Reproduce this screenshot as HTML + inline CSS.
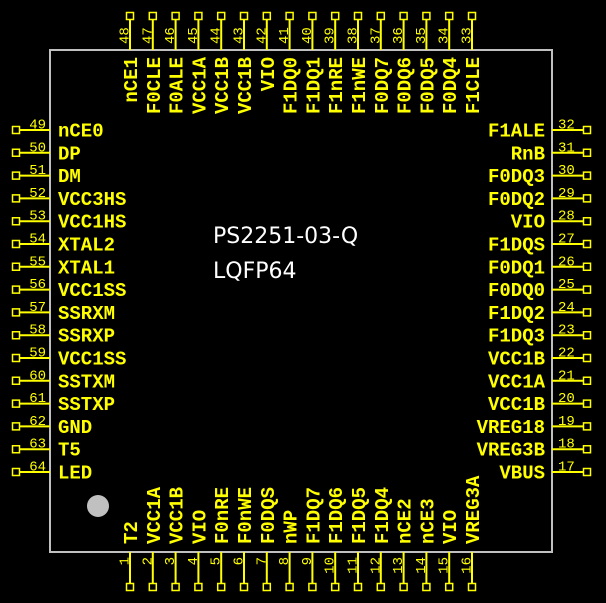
<!DOCTYPE html>
<html><head><meta charset="utf-8"><style>
html,body{margin:0;padding:0;background:#000;}
svg{display:block;}
.n{font-family:"Liberation Mono",monospace;font-weight:bold;font-size:19px;fill:#ffff00;}
.d{font-family:"Liberation Mono",monospace;font-size:14px;fill:#ffff00;}
.p{stroke:#ffff00;stroke-width:2;fill:none;}
</style></head><body>
<svg width="606" height="603" viewBox="0 0 606 603" xmlns="http://www.w3.org/2000/svg">
<rect width="606" height="603" fill="#000"/>
<rect x="50" y="50" width="502" height="502" fill="none" stroke="#c0c0c0" stroke-width="2"/>
<circle cx="98" cy="506" r="11" fill="#c0c0c0"/>
<text x="213" y="243" font-family="DejaVu Sans,sans-serif" font-size="22" fill="#ffffff">PS2251-03-Q</text>
<text x="213" y="278" font-family="DejaVu Sans,sans-serif" font-size="22" fill="#ffffff">LQFP64</text>

<!-- LEFT pins -->
<g class="p">
<path d="M19.5 130H50M19.5 152.8H50M19.5 175.6H50M19.5 198.4H50M19.5 221.2H50M19.5 244H50M19.5 266.8H50M19.5 289.6H50M19.5 312.4H50M19.5 335.2H50M19.5 358H50M19.5 380.8H50M19.5 403.6H50M19.5 426.4H50M19.5 449.2H50M19.5 472H50"/>
<path d="M12.5 126.5h7v7h-7zM12.5 149.3h7v7h-7zM12.5 172.1h7v7h-7zM12.5 194.9h7v7h-7zM12.5 217.7h7v7h-7zM12.5 240.5h7v7h-7zM12.5 263.3h7v7h-7zM12.5 286.1h7v7h-7zM12.5 308.9h7v7h-7zM12.5 331.7h7v7h-7zM12.5 354.5h7v7h-7zM12.5 377.3h7v7h-7zM12.5 400.1h7v7h-7zM12.5 422.9h7v7h-7zM12.5 445.7h7v7h-7zM12.5 468.5h7v7h-7z" stroke-width="1.5"/>
<!-- RIGHT -->
<path d="M552 130H583.5M552 152.8H583.5M552 175.6H583.5M552 198.4H583.5M552 221.2H583.5M552 244H583.5M552 266.8H583.5M552 289.6H583.5M552 312.4H583.5M552 335.2H583.5M552 358H583.5M552 380.8H583.5M552 403.6H583.5M552 426.4H583.5M552 449.2H583.5M552 472H583.5"/>
<path d="M583.5 126.5h7v7h-7zM583.5 149.3h7v7h-7zM583.5 172.1h7v7h-7zM583.5 194.9h7v7h-7zM583.5 217.7h7v7h-7zM583.5 240.5h7v7h-7zM583.5 263.3h7v7h-7zM583.5 286.1h7v7h-7zM583.5 308.9h7v7h-7zM583.5 331.7h7v7h-7zM583.5 354.5h7v7h-7zM583.5 377.3h7v7h-7zM583.5 400.1h7v7h-7zM583.5 422.9h7v7h-7zM583.5 445.7h7v7h-7zM583.5 468.5h7v7h-7z" stroke-width="1.5"/>
<!-- TOP -->
<path d="M130 19.5V50M152.8 19.5V50M175.6 19.5V50M198.4 19.5V50M221.2 19.5V50M244 19.5V50M266.8 19.5V50M289.6 19.5V50M312.4 19.5V50M335.2 19.5V50M358 19.5V50M380.8 19.5V50M403.6 19.5V50M426.4 19.5V50M449.2 19.5V50M472 19.5V50"/>
<path d="M126.5 12.5h7v7h-7zM149.3 12.5h7v7h-7zM172.1 12.5h7v7h-7zM194.9 12.5h7v7h-7zM217.7 12.5h7v7h-7zM240.5 12.5h7v7h-7zM263.3 12.5h7v7h-7zM286.1 12.5h7v7h-7zM308.9 12.5h7v7h-7zM331.7 12.5h7v7h-7zM354.5 12.5h7v7h-7zM377.3 12.5h7v7h-7zM400.1 12.5h7v7h-7zM422.9 12.5h7v7h-7zM445.7 12.5h7v7h-7zM468.5 12.5h7v7h-7z" stroke-width="1.5"/>
<!-- BOTTOM -->
<path d="M130 552V583.5M152.8 552V583.5M175.6 552V583.5M198.4 552V583.5M221.2 552V583.5M244 552V583.5M266.8 552V583.5M289.6 552V583.5M312.4 552V583.5M335.2 552V583.5M358 552V583.5M380.8 552V583.5M403.6 552V583.5M426.4 552V583.5M449.2 552V583.5M472 552V583.5"/>
<path d="M126.5 583.5h7v7h-7zM149.3 583.5h7v7h-7zM172.1 583.5h7v7h-7zM194.9 583.5h7v7h-7zM217.7 583.5h7v7h-7zM240.5 583.5h7v7h-7zM263.3 583.5h7v7h-7zM286.1 583.5h7v7h-7zM308.9 583.5h7v7h-7zM331.7 583.5h7v7h-7zM354.5 583.5h7v7h-7zM377.3 583.5h7v7h-7zM400.1 583.5h7v7h-7zM422.9 583.5h7v7h-7zM445.7 583.5h7v7h-7zM468.5 583.5h7v7h-7z" stroke-width="1.5"/>
</g>

<!-- LEFT names -->
<g class="n">
<text x="58" y="136.5">nCE0</text>
<text x="58" y="159.3">DP</text>
<text x="58" y="182.1">DM</text>
<text x="58" y="204.9">VCC3HS</text>
<text x="58" y="227.7">VCC1HS</text>
<text x="58" y="250.5">XTAL2</text>
<text x="58" y="273.3">XTAL1</text>
<text x="58" y="296.1">VCC1SS</text>
<text x="58" y="318.9">SSRXM</text>
<text x="58" y="341.7">SSRXP</text>
<text x="58" y="364.5">VCC1SS</text>
<text x="58" y="387.3">SSTXM</text>
<text x="58" y="410.1">SSTXP</text>
<text x="58" y="432.9">GND</text>
<text x="58" y="455.7">T5</text>
<text x="58" y="478.5">LED</text>
</g>
<g class="d" text-anchor="end">
<text x="46" y="128.5">49</text>
<text x="46" y="151.3">50</text>
<text x="46" y="174.1">51</text>
<text x="46" y="196.9">52</text>
<text x="46" y="219.7">53</text>
<text x="46" y="242.5">54</text>
<text x="46" y="265.3">55</text>
<text x="46" y="288.1">56</text>
<text x="46" y="310.9">57</text>
<text x="46" y="333.7">58</text>
<text x="46" y="356.5">59</text>
<text x="46" y="379.3">60</text>
<text x="46" y="402.1">61</text>
<text x="46" y="424.9">62</text>
<text x="46" y="447.7">63</text>
<text x="46" y="470.5">64</text>
</g>

<!-- RIGHT names -->
<g class="n" text-anchor="end">
<text x="545" y="136.5">F1ALE</text>
<text x="545" y="159.3">RnB</text>
<text x="545" y="182.1">F0DQ3</text>
<text x="545" y="204.9">F0DQ2</text>
<text x="545" y="227.7">VIO</text>
<text x="545" y="250.5">F1DQS</text>
<text x="545" y="273.3">F0DQ1</text>
<text x="545" y="296.1">F0DQ0</text>
<text x="545" y="318.9">F1DQ2</text>
<text x="545" y="341.7">F1DQ3</text>
<text x="545" y="364.5">VCC1B</text>
<text x="545" y="387.3">VCC1A</text>
<text x="545" y="410.1">VCC1B</text>
<text x="545" y="432.9">VREG18</text>
<text x="545" y="455.7">VREG3B</text>
<text x="545" y="478.5">VBUS</text>
</g>
<g class="d">
<text x="558" y="128.5">32</text>
<text x="558" y="151.3">31</text>
<text x="558" y="174.1">30</text>
<text x="558" y="196.9">29</text>
<text x="558" y="219.7">28</text>
<text x="558" y="242.5">27</text>
<text x="558" y="265.3">26</text>
<text x="558" y="288.1">25</text>
<text x="558" y="310.9">24</text>
<text x="558" y="333.7">23</text>
<text x="558" y="356.5">22</text>
<text x="558" y="379.3">21</text>
<text x="558" y="402.1">20</text>
<text x="558" y="424.9">19</text>
<text x="558" y="447.7">18</text>
<text x="558" y="470.5">17</text>
</g>

<!-- TOP names -->
<g class="n" text-anchor="end">
<text transform="translate(137,57) rotate(-90)">nCE1</text>
<text transform="translate(159.8,57) rotate(-90)">F0CLE</text>
<text transform="translate(182.6,57) rotate(-90)">F0ALE</text>
<text transform="translate(205.4,57) rotate(-90)">VCC1A</text>
<text transform="translate(228.2,57) rotate(-90)">VCC1B</text>
<text transform="translate(251,57) rotate(-90)">VCC1B</text>
<text transform="translate(273.8,57) rotate(-90)">VIO</text>
<text transform="translate(296.6,57) rotate(-90)">F1DQ0</text>
<text transform="translate(319.4,57) rotate(-90)">F1DQ1</text>
<text transform="translate(342.2,57) rotate(-90)">F1nRE</text>
<text transform="translate(365,57) rotate(-90)">F1nWE</text>
<text transform="translate(387.8,57) rotate(-90)">F0DQ7</text>
<text transform="translate(410.6,57) rotate(-90)">F0DQ6</text>
<text transform="translate(433.4,57) rotate(-90)">F0DQ5</text>
<text transform="translate(456.2,57) rotate(-90)">F0DQ4</text>
<text transform="translate(479,57) rotate(-90)">F1CLE</text>
</g>
<g class="d">
<text transform="translate(128.5,44) rotate(-90)">48</text>
<text transform="translate(151.3,44) rotate(-90)">47</text>
<text transform="translate(174.1,44) rotate(-90)">46</text>
<text transform="translate(196.9,44) rotate(-90)">45</text>
<text transform="translate(219.7,44) rotate(-90)">44</text>
<text transform="translate(242.5,44) rotate(-90)">43</text>
<text transform="translate(265.3,44) rotate(-90)">42</text>
<text transform="translate(288.1,44) rotate(-90)">41</text>
<text transform="translate(310.9,44) rotate(-90)">40</text>
<text transform="translate(333.7,44) rotate(-90)">39</text>
<text transform="translate(356.5,44) rotate(-90)">38</text>
<text transform="translate(379.3,44) rotate(-90)">37</text>
<text transform="translate(402.1,44) rotate(-90)">36</text>
<text transform="translate(424.9,44) rotate(-90)">35</text>
<text transform="translate(447.7,44) rotate(-90)">34</text>
<text transform="translate(470.5,44) rotate(-90)">33</text>
</g>

<!-- BOTTOM names -->
<g class="n">
<text transform="translate(137,544) rotate(-90)">T2</text>
<text transform="translate(159.8,544) rotate(-90)">VCC1A</text>
<text transform="translate(182.6,544) rotate(-90)">VCC1B</text>
<text transform="translate(205.4,544) rotate(-90)">VIO</text>
<text transform="translate(228.2,544) rotate(-90)">F0nRE</text>
<text transform="translate(251,544) rotate(-90)">F0nWE</text>
<text transform="translate(273.8,544) rotate(-90)">F0DQS</text>
<text transform="translate(296.6,544) rotate(-90)">nWP</text>
<text transform="translate(319.4,544) rotate(-90)">F1DQ7</text>
<text transform="translate(342.2,544) rotate(-90)">F1DQ6</text>
<text transform="translate(365,544) rotate(-90)">F1DQ5</text>
<text transform="translate(387.8,544) rotate(-90)">F1DQ4</text>
<text transform="translate(410.6,544) rotate(-90)">nCE2</text>
<text transform="translate(433.4,544) rotate(-90)">nCE3</text>
<text transform="translate(456.2,544) rotate(-90)">VIO</text>
<text transform="translate(479,544) rotate(-90)">VREG3A</text>
</g>
<g class="d" text-anchor="end">
<text transform="translate(128.5,557) rotate(-90)">1</text>
<text transform="translate(151.3,557) rotate(-90)">2</text>
<text transform="translate(174.1,557) rotate(-90)">3</text>
<text transform="translate(196.9,557) rotate(-90)">4</text>
<text transform="translate(219.7,557) rotate(-90)">5</text>
<text transform="translate(242.5,557) rotate(-90)">6</text>
<text transform="translate(265.3,557) rotate(-90)">7</text>
<text transform="translate(288.1,557) rotate(-90)">8</text>
<text transform="translate(310.9,557) rotate(-90)">9</text>
<text transform="translate(333.7,557) rotate(-90)">10</text>
<text transform="translate(356.5,557) rotate(-90)">11</text>
<text transform="translate(379.3,557) rotate(-90)">12</text>
<text transform="translate(402.1,557) rotate(-90)">13</text>
<text transform="translate(424.9,557) rotate(-90)">14</text>
<text transform="translate(447.7,557) rotate(-90)">15</text>
<text transform="translate(470.5,557) rotate(-90)">16</text>
</g>
</svg>
</body></html>
